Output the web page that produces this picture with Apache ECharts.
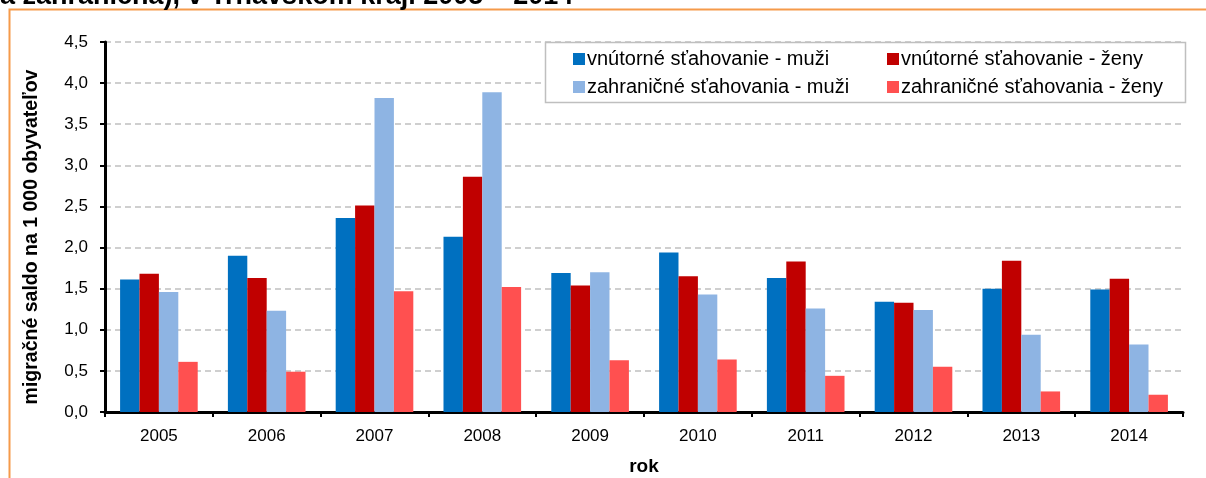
<!DOCTYPE html>
<html>
<head>
<meta charset="utf-8">
<script src="https://cdn.jsdelivr.net/npm/echarts@6/dist/echarts.min.js"></script>
<style>
  html, body { margin: 0; padding: 0; background: #fff; }
  #chart { width: 1206px; height: 478px; }
</style>
</head>
<body>
<div id="chart"></div>
<script>
// roky
var years = ['2005','2006','2007','2008','2009','2010','2011','2012','2013','2014'];
// migračné saldo na 1 000 obyvateľov
var vnutMuzi = [1.61, 1.90, 2.36, 2.13, 1.69, 1.94, 1.63, 1.34, 1.50, 1.49];
var vnutZeny = [1.68, 1.63, 2.51, 2.86, 1.54, 1.65, 1.83, 1.33, 1.84, 1.62];
var zahrMuzi = [1.46, 1.23, 3.82, 3.89, 1.70, 1.43, 1.26, 1.24, 0.94, 0.82];
var zahrZeny = [0.61, 0.49, 1.47, 1.52, 0.63, 0.64, 0.44, 0.55, 0.25, 0.21];
var seriesNames = ['vnútorné sťahovanie - muži', 'vnútorné sťahovanie - ženy',
                   'zahraničné sťahovania - muži', 'zahraničné sťahovania - ženy'];
var colors = ['#0070C0', '#C00000', '#8EB4E3', '#FF5050'];

var font = 'Liberation Sans, Arial, sans-serif';
var chart = echarts.init(document.getElementById('chart'));

function bar(i, data) {
  return {
    name: seriesNames[i],
    type: 'bar',
    data: data,
    barGap: 0,
    barCategoryGap: '28%',
    itemStyle: { color: colors[i] }
  };
}

var option = {
  animation: false,
  color: colors,
  grid: { left: 105, right: 23, top: 42, bottom: 66, outerBoundsMode: 'none' },
  graphic: [
    {
      type: 'rect', z: 0, silent: true,
      shape: { x: 9.5, y: 9.5, width: 1300, height: 600 },
      style: { fill: null, stroke: '#F59A4A', lineWidth: 2 }
    },
    {
      type: 'text', left: 0, top: -17, silent: true,
      style: { text: 'a zahraničná), v Trnavskom kraji 2005 – 2014',
               font: 'bold 27px ' + font, fill: '#000' }
    },
    {
      type: 'rect', z: 50, silent: true,
      shape: { x: 545.5, y: 42.5, width: 640, height: 60 },
      style: { fill: '#fff', stroke: '#BFBFBF', lineWidth: 1.5 }
    }
  ],
  legend: [
    {
      z: 60, orient: 'vertical', left: 568, top: 44, itemGap: 8,
      itemWidth: 12, itemHeight: 12, icon: 'rect',
      data: [seriesNames[0], seriesNames[2]],
      textStyle: { fontFamily: font, fontSize: 20, color: '#000', padding: [0, 0, 0, -3] }
    },
    {
      z: 60, orient: 'vertical', left: 882, top: 44, itemGap: 8,
      itemWidth: 12, itemHeight: 12, icon: 'rect',
      data: [seriesNames[1], seriesNames[3]],
      textStyle: { fontFamily: font, fontSize: 20, color: '#000', padding: [0, 0, 0, -3] }
    }
  ],
  xAxis: {
    type: 'category',
    data: years,
    name: 'rok',
    nameLocation: 'middle',
    nameGap: 45,
    nameTextStyle: { fontFamily: font, fontSize: 19, fontWeight: 'bold', color: '#000' },
    axisLine: { lineStyle: { color: '#000', width: 3 } },
    axisTick: { show: true, length: 5, lineStyle: { color: '#000', width: 2 } },
    axisLabel: { fontFamily: font, fontSize: 17, color: '#000', margin: 16 }
  },
  yAxis: {
    type: 'value',
    min: 0,
    max: 4.5,
    interval: 0.5,
    name: 'migračné saldo na 1 000 obyvateľov',
    nameLocation: 'middle',
    nameRotate: 90,
    nameGap: 63,
    nameTextStyle: { fontFamily: font, fontSize: 19.5, fontWeight: 'bold', color: '#000',
                     padding: [0, 20, 0, 0] },
    axisLine: { show: true, lineStyle: { color: '#000', width: 3 } },
    axisTick: { show: true, length: 5, lineStyle: { color: '#000', width: 2 } },
    axisLabel: {
      fontFamily: font, fontSize: 17, color: '#000', margin: 17,
      formatter: function (v) { return v.toFixed(1).replace('.', ','); }
    },
    splitLine: { lineStyle: { color: '#C0C0C0', type: [6, 4], width: 1.5 } }
  },
  series: [
    bar(0, vnutMuzi),
    bar(1, vnutZeny),
    bar(2, zahrMuzi),
    bar(3, zahrZeny)
  ]
};

chart.setOption(option);
</script>
</body>
</html>
